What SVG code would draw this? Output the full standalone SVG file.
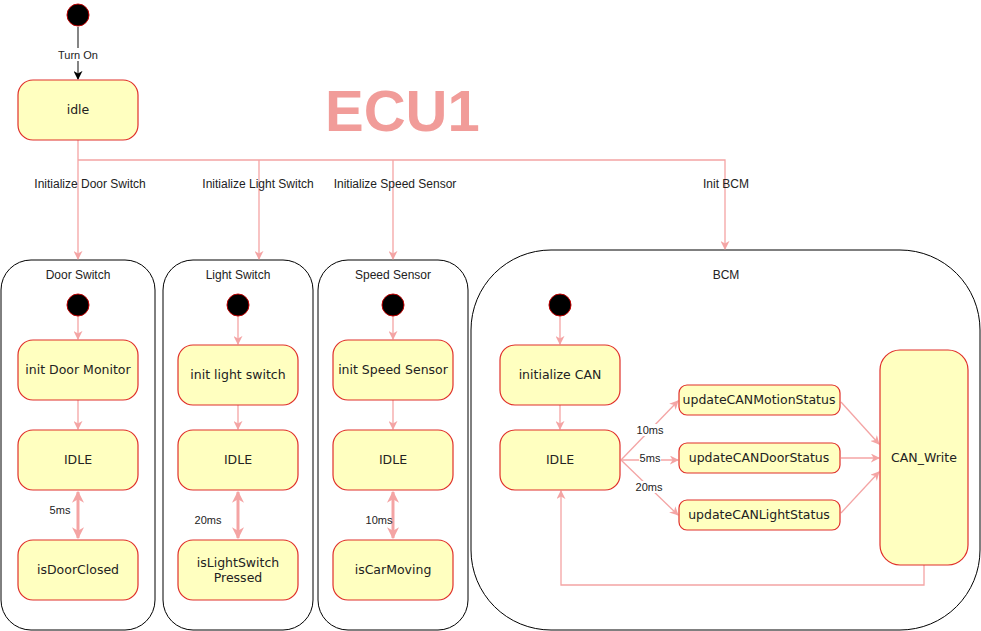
<svg xmlns="http://www.w3.org/2000/svg" width="981" height="631" viewBox="0 0 981 631">
<defs>
<style>
.st{fill:#ffffc0;stroke:#e0302a;stroke-width:1.2}
.ini{fill:#000;stroke:#c00000;stroke-width:1}
.ct{fill:#fff;stroke:#000;stroke-width:1}
.c{fill:none;stroke:#f4a4a4;stroke-width:1.3}
.thick{fill:none;stroke:#f4a4a4;stroke-width:3}
.t{font-family:"DejaVu Sans",Verdana,sans-serif;font-size:12.5px;fill:#222;text-anchor:middle}
.l{font-family:"Liberation Sans",Arial,sans-serif;font-size:11px;fill:#222;text-anchor:middle}
.lb{font-family:"Liberation Sans",Arial,sans-serif;font-size:12px;fill:#222;text-anchor:middle}
.h{font-family:"Liberation Sans",Arial,sans-serif;font-size:12px;fill:#222;text-anchor:middle}
</style>
<marker id="a" viewBox="0 0 10 10" refX="9" refY="5" markerWidth="9" markerHeight="9" markerUnits="userSpaceOnUse" orient="auto-start-reverse"><path d="M0,0 L10,5 L0,10 L3,5 z" fill="#f4a4a4"/></marker>
<marker id="ab" viewBox="0 0 10 10" refX="9" refY="5" markerWidth="9" markerHeight="9" markerUnits="userSpaceOnUse" orient="auto"><path d="M0,0 L10,5 L0,10 L3,5 z" fill="#000"/></marker>
<marker id="at" viewBox="0 0 10 10" refX="9" refY="5" markerWidth="12" markerHeight="12" markerUnits="userSpaceOnUse" orient="auto-start-reverse"><path d="M0,0 L10,5 L0,10 L3,5 z" fill="#f4a4a4"/></marker>
</defs>
<rect width="981" height="631" fill="#fff"/>

<text x="325" y="131" font-family="Liberation Sans,Arial,sans-serif" font-weight="bold" font-size="58" fill="#f19c99">ECU1</text>

<g id="containers">
<g id="door-switch"><rect class="ct" x="1" y="260" width="154" height="370" rx="30"/><text class="h" x="78" y="279">Door Switch</text></g>
<g id="light-switch"><rect class="ct" x="163" y="260" width="150" height="370" rx="30"/><text class="h" x="238" y="279">Light Switch</text></g>
<g id="speed-sensor"><rect class="ct" x="318" y="260" width="150" height="370" rx="30"/><text class="h" x="393" y="279">Speed Sensor</text></g>
<g id="bcm"><rect class="ct" x="471" y="250" width="509" height="380" rx="80"/><text class="h" x="726" y="279">BCM</text></g>
</g>

<g id="connectors">
<line x1="78" y1="27" x2="78" y2="79" stroke="#333" stroke-width="1.2" marker-end="url(#ab)"/>
<rect x="56" y="48" width="44" height="13" fill="#fff"/>
<text class="l" x="78" y="59">Turn On</text>
<path class="c" d="M78,140 V259" marker-end="url(#a)"/>
<path class="c" d="M78,160 H725 V249" marker-end="url(#a)"/>
<path class="c" d="M259,160 V259" marker-end="url(#a)"/>
<path class="c" d="M393,160 V259" marker-end="url(#a)"/>
<text class="lb" x="90" y="188">Initialize Door Switch</text>
<text class="lb" x="258" y="188">Initialize Light Switch</text>
<text class="lb" x="395" y="188">Initialize Speed Sensor</text>
<text class="lb" x="726" y="188">Init BCM</text>

<path class="c" d="M78,316 V339" marker-end="url(#a)"/>
<path class="c" d="M78,400 V429" marker-end="url(#a)"/>
<path class="thick" d="M78,492 V538" marker-start="url(#at)" marker-end="url(#at)"/>
<text class="l" x="60" y="514">5ms</text>

<path class="c" d="M238,316 V344" marker-end="url(#a)"/>
<path class="c" d="M238,405 V429" marker-end="url(#a)"/>
<path class="thick" d="M238,492 V538" marker-start="url(#at)" marker-end="url(#at)"/>
<text class="l" x="208" y="524">20ms</text>

<path class="c" d="M393,316 V339" marker-end="url(#a)"/>
<path class="c" d="M393,400 V429" marker-end="url(#a)"/>
<path class="thick" d="M393,492 V538" marker-start="url(#at)" marker-end="url(#at)"/>
<text class="l" x="379" y="524">10ms</text>

<path class="c" d="M560,316 V344" marker-end="url(#a)"/>
<path class="c" d="M560,405 V429" marker-end="url(#a)"/>
<path class="c" d="M621,460 L678,401" marker-end="url(#a)"/>
<path class="c" d="M621,460 H678" marker-end="url(#a)"/>
<path class="c" d="M621,460 L678,515" marker-end="url(#a)"/>
<rect x="638" y="424" width="26" height="12" fill="#fff"/>
<text class="l" x="650" y="434">10ms</text>
<rect x="639" y="452" width="22" height="12" fill="#fff"/>
<text class="l" x="650" y="462">5ms</text>
<rect x="636" y="481" width="26" height="12" fill="#fff"/>
<text class="l" x="649" y="491">20ms</text>
<path class="c" d="M841,402 L879,444" marker-end="url(#a)"/>
<path class="c" d="M841,458 H879" marker-end="url(#a)"/>
<path class="c" d="M841,513 L879,472" marker-end="url(#a)"/>
<path class="c" d="M924,565 V585 H561 V491" marker-end="url(#a)"/>
</g>

<g id="initial"><circle class="ini" cx="78" cy="15" r="11"/></g>
<g id="idle"><rect class="st" x="18" y="80" width="120" height="60" rx="15"/><text class="t" x="78" y="114">idle</text></g>

<g id="door-initial"><circle class="ini" cx="78" cy="305" r="11"/></g>
<g id="init-door-monitor"><rect class="st" x="18" y="340" width="120" height="60" rx="15"/><text class="t" x="78" y="374">init Door Monitor</text></g>
<g id="door-idle"><rect class="st" x="18" y="430" width="120" height="60" rx="15"/><text class="t" x="78" y="464">IDLE</text></g>
<g id="is-door-closed"><rect class="st" x="18" y="540" width="120" height="60" rx="15"/><text class="t" x="78" y="574">isDoorClosed</text></g>

<g id="light-initial"><circle class="ini" cx="238" cy="305" r="11"/></g>
<g id="init-light-switch"><rect class="st" x="178" y="345" width="120" height="60" rx="15"/><text class="t" x="238" y="379">init light switch</text></g>
<g id="light-idle"><rect class="st" x="178" y="430" width="120" height="60" rx="15"/><text class="t" x="238" y="464">IDLE</text></g>
<g id="is-light-switch-pressed"><rect class="st" x="178" y="540" width="120" height="60" rx="15"/><text class="t" x="238" y="567">isLightSwitch</text><text class="t" x="238" y="582">Pressed</text></g>

<g id="speed-initial"><circle class="ini" cx="393" cy="305" r="11"/></g>
<g id="init-speed-sensor"><rect class="st" x="333" y="340" width="120" height="60" rx="15"/><text class="t" x="393" y="374">init Speed Sensor</text></g>
<g id="speed-idle"><rect class="st" x="333" y="430" width="120" height="60" rx="15"/><text class="t" x="393" y="464">IDLE</text></g>
<g id="is-car-moving"><rect class="st" x="333" y="540" width="120" height="60" rx="15"/><text class="t" x="393" y="574">isCarMoving</text></g>

<g id="bcm-initial"><circle class="ini" cx="560" cy="305" r="11"/></g>
<g id="initialize-can"><rect class="st" x="500" y="345" width="120" height="60" rx="15"/><text class="t" x="560" y="379">initialize CAN</text></g>
<g id="bcm-idle"><rect class="st" x="500" y="430" width="120" height="60" rx="15"/><text class="t" x="560" y="464">IDLE</text></g>
<g id="update-motion"><rect class="st" x="679" y="385" width="161" height="30" rx="8"/><text class="t" x="759" y="404">updateCANMotionStatus</text></g>
<g id="update-door"><rect class="st" x="679" y="443" width="161" height="30" rx="8"/><text class="t" x="759" y="462">updateCANDoorStatus</text></g>
<g id="update-light"><rect class="st" x="679" y="500" width="161" height="30" rx="8"/><text class="t" x="759" y="519">updateCANLightStatus</text></g>
<g id="can-write"><rect class="st" x="880" y="350" width="88" height="215" rx="20"/><text class="t" x="924" y="462">CAN_Write</text></g>
</svg>
